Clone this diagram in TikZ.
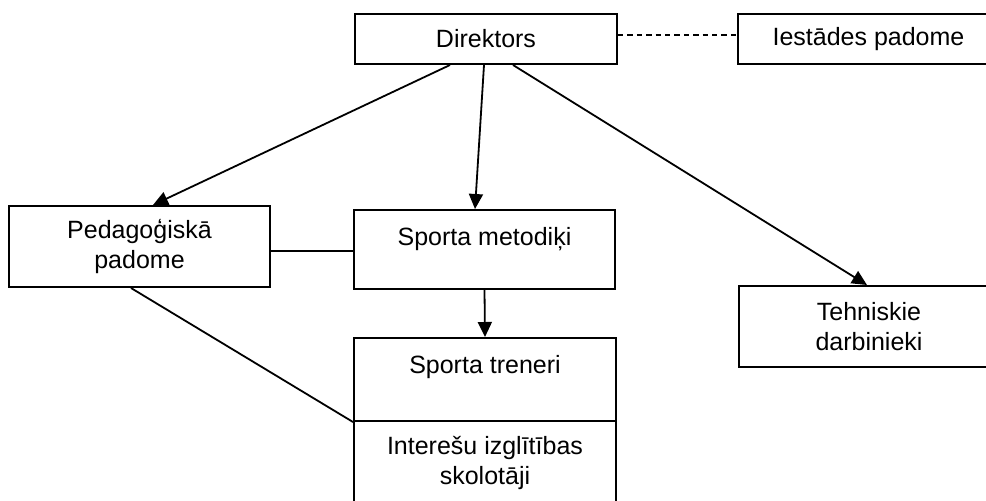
\documentclass[tikz,border=0pt]{standalone}
\usepackage{fontspec}
\setmainfont{Liberation Sans}
\usetikzlibrary{arrows.meta}
\tikzset{
    block/.style = {draw, rectangle, line width=1pt, inner sep=0,
        minimum height=40.5pt,
        minimum width=131pt,
        font=\fontsize{12.5}{15}\selectfont},
    arrow/.style = {draw, line width=0.9pt, -{Triangle[length=7.5pt,width=7pt]}},
    link/.style = {draw, line width=0.9pt}
}

\begin{document}
\begin{tikzpicture}[x=0.5pt,y=-0.5pt]
    \useasboundingbox (0,0) rectangle (986,500);
    \clip (0,0) rectangle (986,500);
    \node[block,minimum height=25pt] (dir) at (486,39) {Direktors};
    \node[block,minimum height=25pt,minimum width=130.5pt] (ies) at (868.5,39) {Iestādes padome};
    \node[block,align=center,minimum width=130.5pt] (ped) at (139.5,246.5) {Pedagoģiskā\\padome};
    \node[block,minimum height=39.5pt,minimum width=130.5pt,text height=17.5pt,text depth=22pt] (met) at (484.5,249.5) {Sporta metodiķi};
    \node[block,align=center,minimum width=130pt] (tehn) at (869,326.5) {Tehniskie\\darbinieki};
    \node[block,minimum height=41.5pt,text height=17.5pt,text depth=24pt] (tren) at (485,379.5) {Sporta treneri};
    \node[block,align=center,minimum height=41.5pt] (intr) at (485,462.5) {Interešu izglītības\\skolotāji};
    \draw[link,dashed,dash pattern=on 2.7pt off 2pt] ([yshift=2pt]dir.east) -- ([yshift=2pt]dir.east -| ies.west);
    \draw[arrow] ([xshift=-18pt]dir.south) -- ([xshift=6.75pt]ped.north);
    \draw[arrow] ([xshift=-1pt]dir.south) -- ([xshift=-4.75pt]met.north);
    \draw[arrow] ([xshift=13.5pt]dir.south) -- ([xshift=-1pt]tehn.north);
    \draw[link] ([yshift=-2.25pt]ped.east) -- ([yshift=-2.25pt]ped.east -| met.west);
    \draw[arrow] (met.south) -- (tren.north);
    \draw[link] ([xshift=-4.25pt]ped.south) -- (tren.south west);
\end{tikzpicture}
\end{document}
